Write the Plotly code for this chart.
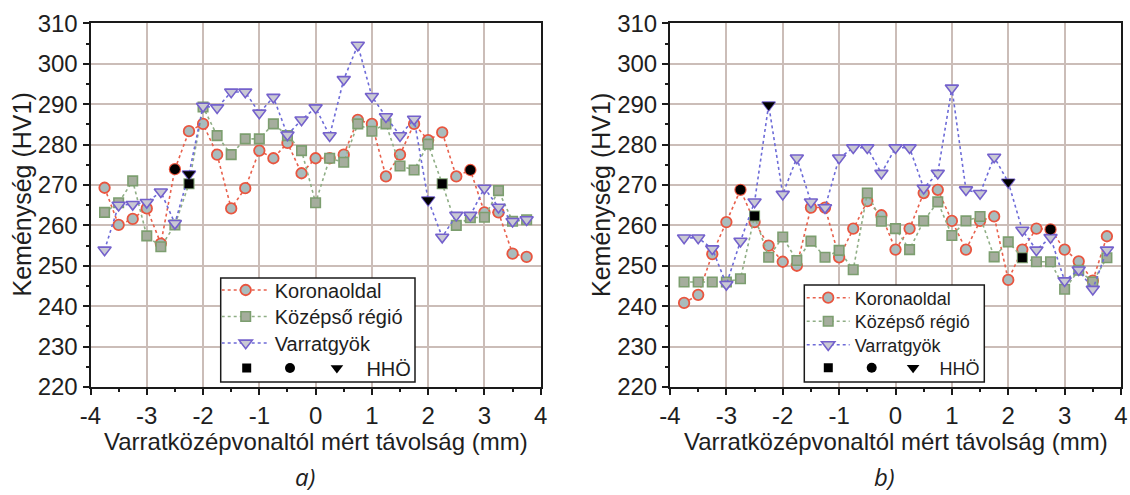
import plotly.graph_objects as go

W, H = 1130, 495
FONT = "Liberation Sans, Arial, sans-serif"

# ---------------- data ----------------
x_mm = [-3.75, -3.5, -3.25, -3.0, -2.75, -2.5, -2.25, -2.0, -1.75, -1.5, -1.25,
        -1.0, -0.75, -0.5, -0.25, 0.0, 0.25, 0.5, 0.75, 1.0, 1.25, 1.5, 1.75,
        2.0, 2.25, 2.5, 2.75, 3.0, 3.25, 3.5, 3.75]

# panel a)
a_koronaoldal = [269.3, 260.1, 261.6, 264.2, 255.5, 273.9, 283.3, 285.1, 277.5, 264.2, 269.2,
                 278.5, 276.6, 280.4, 272.9, 276.6, 276.6, 277.5, 286.1, 285.1, 272.1, 277.5, 285.1,
                 281.1, 283.0, 272.1, 273.7, 263.2, 263.2, 253.0, 252.2]
a_kozepso = [263.2, 265.6, 271.0, 257.4, 254.7, 260.1, 270.3, 289.3, 282.2, 277.5, 281.4,
             281.4, 285.1, 282.2, 278.5, 265.6, 276.6, 275.6, 285.1, 283.3, 285.1, 274.7, 273.7,
             280.1, 270.3, 260.0, 261.9, 262.0, 268.6, 261.0, 261.4]
a_varratgyok = [253.9, 265.0, 265.2, 265.7, 268.3, 260.5, 272.7, 289.5, 289.1, 293.0, 293.0,
                287.8, 291.7, 282.4, 286.1, 289.1, 282.2, 296.1, 304.6, 291.9, 286.9, 282.2, 286.3,
                266.3, 257.1, 262.5, 262.5, 269.2, 264.5, 261.0, 261.4]

# panel b)
b_koronaoldal = [240.8, 242.8, 252.9, 260.8, 268.8, 260.8, 255.0, 251.0, 250.0, 264.4, 264.4,
                 252.1, 259.2, 266.0, 262.5, 254.0, 259.2, 268.0, 268.8, 261.1, 254.0, 261.1, 262.2,
                 246.5, 254.0, 259.2, 259.0, 254.0, 251.1, 246.3, 257.3]
b_kozepso = [246.0, 246.0, 246.0, 246.0, 246.8, 262.3, 252.1, 257.1, 251.3, 256.1, 252.1,
             253.8, 249.0, 268.0, 261.0, 259.2, 254.0, 261.1, 265.8, 257.5, 261.1, 262.2, 252.2,
             255.9, 252.0, 251.0, 251.0, 244.2, 248.9, 246.0, 252.0]
b_varratgyok = [256.9, 256.9, 254.2, 245.4, 256.1, 265.8, 289.8, 267.7, 276.7, 265.8, 264.4,
                276.7, 279.2, 279.2, 272.9, 279.2, 279.2, 269.2, 272.9, 294.0, 268.8, 267.9, 276.9,
                270.7, 258.8, 253.9, 257.0, 246.3, 249.0, 244.2, 253.9]

# HHÖ (heat affected zone boundary) positions, mm
a_hho_square_x = [-2.25, 2.25]     # on Középső régió
a_hho_circle_x = [-2.5, 2.75]      # on Koronaoldal
a_hho_triangle_x = [-2.25, 2.0]    # on Varratgyök
b_hho_square_x = [-2.5, 2.25]
b_hho_circle_x = [-2.75, 2.75]
b_hho_triangle_x = [-2.25, 2.0]

series_names = ["Koronaoldal", "Középső régió", "Varratgyök"]
hho_label = "HHÖ"
x_tick_vals = [-4, -3, -2, -1, 0, 1, 2, 3, 4]
x_tick_text = ["-4", "-3", "-2", "-1", "0", "1", "2", "3", "4"]
y_tick_vals = [220, 230, 240, 250, 260, 270, 280, 290, 300, 310]
panel_labels = ["a)", "b)"]
x_title = "Varratközépvonaltól mért távolság (mm)"
y_title = "Keménység (HV1)"

X_RANGE = [-4, 4]
Y_RANGE = [220, 310]

# ---------------- styling ----------------
series_style = [
    dict(line=dict(color="#e8604c", width=1.6, dash="dot"),
         marker=dict(symbol="circle", size=10.5, color="#a9bcbd",
                     line=dict(color="#e9553f", width=1.8))),
    dict(line=dict(color="#8fae85", width=1.6, dash="dot"),
         marker=dict(symbol="square", size=9.5, color="#a5ad9d",
                     line=dict(color="#7c9e6f", width=1.6))),
    dict(line=dict(color="#6d6bd8", width=1.6, dash="dot"),
         marker=dict(symbol="triangle-down", size=11.5, color="#c9c9d3",
                     line=dict(color="#7461cc", width=1.6))),
]
hho_style = [
    dict(symbol="square", size=9, color="#000000"),
    dict(symbol="circle", size=10, color="#000000"),
    dict(symbol="triangle-down", size=11, color="#000000"),
]

# pixel layout
X_DOM = [(90.5, 540.7), (670.0, 1121.0)]
Y_TOP, Y_BOT = 23.3, 387.0


def fx(p):
    return p / W


def fy(p):
    return 1 - p / H


panels = [
    dict(xa="x", ya="y", series=[a_koronaoldal, a_kozepso, a_varratgyok],
         hho=[a_hho_square_x, a_hho_circle_x, a_hho_triangle_x],
         leg_rows=[290, 316.5, 343], hho_row=368, leg_x=216.7, iw=48, fsize=20,
         hho_xs=[226.7, 270.0, 307.4], hho_iw=[30, 30, 49],
         box=(220.7, 415.0, 278.0, 382.0)),
    dict(xa="x2", ya="y2", series=[b_koronaoldal, b_kozepso, b_varratgyok],
         hho=[b_hho_square_x, b_hho_circle_x, b_hho_triangle_x],
         leg_rows=[298, 321.5, 345], hho_row=368, leg_x=801.7, iw=43, fsize=18,
         hho_xs=[808.3, 851.7, 886.6], hho_iw=[30, 30, 43],
         box=(804.3, 984.3, 285.0, 382.0)),
]

fig = go.Figure()
legends = {}
leg_count = 0


def new_legend(xpx, ypx, size, iw):
    global leg_count
    leg_count += 1
    key = "legend" if leg_count == 1 else "legend%d" % leg_count
    legends[key] = dict(x=fx(xpx), y=fy(ypx), xanchor="left", yanchor="middle",
                        xref="paper", yref="paper", bgcolor="rgba(0,0,0,0)",
                        borderwidth=0, itemwidth=iw, tracegroupgap=0,
                        font=dict(family=FONT, size=size, color="#1e1e1e"))
    return key


hho_series_index = [1, 0, 2]  # square->Középső, circle->Korona, triangle->Varratgyök

for p in panels:
    for i, ys in enumerate(p["series"]):
        key = new_legend(p["leg_x"], p["leg_rows"][i], p["fsize"], p["iw"])
        st = series_style[i]
        fig.add_trace(go.Scatter(x=x_mm, y=ys, mode="lines+markers", name=series_names[i],
                                 line=st["line"], marker=st["marker"],
                                 xaxis=p["xa"], yaxis=p["ya"], legend=key))
    for j, hx in enumerate(p["hho"]):
        src = p["series"][hho_series_index[j]]
        hy = [src[x_mm.index(v)] for v in hx]
        key = new_legend(p["hho_xs"][j], p["hho_row"], p["fsize"], p["hho_iw"][j])
        fig.add_trace(go.Scatter(x=hx, y=hy, mode="markers",
                                 name=hho_label if j == 2 else " ",
                                 marker=hho_style[j], xaxis=p["xa"], yaxis=p["ya"],
                                 legend=key))

axis_common = dict(showline=True, linecolor="#1a1a1a", linewidth=2, mirror=True,
                   showgrid=True, gridcolor="#cbbdb8", gridwidth=1.5, zeroline=False,
                   ticks="outside", ticklen=6, tickwidth=1.5, tickcolor="#1a1a1a",
                   automargin=False,
                   tickfont=dict(family=FONT, size=24, color="#1e1e1e"))

layout = dict(width=W, height=H, margin=dict(l=0, r=0, t=0, b=0, autoexpand=False),
              paper_bgcolor="white", plot_bgcolor="white", showlegend=True)

for k, p in enumerate(panels):
    sx = "" if k == 0 else "2"
    x0, x1 = X_DOM[k]
    layout["xaxis" + sx] = dict(axis_common, domain=[fx(x0), fx(x1)], range=X_RANGE,
                                tickmode="array", tickvals=x_tick_vals, ticktext=x_tick_text,
                                anchor="y" + sx,
                                minor=dict(tickmode="linear", tick0=-4, dtick=0.5, ticklen=3,
                                           tickwidth=1.5, tickcolor="#1a1a1a", ticks="outside",
                                           showgrid=False))
    layout["yaxis" + sx] = dict(axis_common, domain=[fy(Y_BOT), fy(Y_TOP)], range=Y_RANGE,
                                tickmode="array", tickvals=y_tick_vals, anchor="x" + sx,
                                minor=dict(tickmode="linear", tick0=220, dtick=5, ticklen=3,
                                           tickwidth=1.5, tickcolor="#1a1a1a", ticks="outside",
                                           showgrid=False))

layout.update(legends)


def px_to_xdata(px, k):
    x0, x1 = X_DOM[k]
    return X_RANGE[0] + (X_RANGE[1] - X_RANGE[0]) * (px - x0) / (x1 - x0)


def px_to_ydata(py):
    return Y_RANGE[0] + (Y_RANGE[1] - Y_RANGE[0]) * (Y_BOT - py) / (Y_BOT - Y_TOP)


shapes = []
annotations = []
for k, p in enumerate(panels):
    sx = "" if k == 0 else "2"
    x0, x1 = X_DOM[k]
    bx0, bx1, by0, by1 = p["box"]
    shapes.append(dict(type="rect", xref="x" + sx, yref="y" + sx,
                       x0=px_to_xdata(bx0, k), x1=px_to_xdata(bx1, k),
                       y0=px_to_ydata(by1), y1=px_to_ydata(by0),
                       line=dict(color="#1a1a1a", width=1.5), fillcolor="white",
                       layer="between"))
    annotations.append(dict(text=x_title, xref="paper", yref="paper",
                            x=fx((x0 + x1) / 2), y=fy(441), xanchor="center", yanchor="middle",
                            showarrow=False, font=dict(family=FONT, size=24, color="#1e1e1e")))
    annotations.append(dict(text=y_title, xref="paper", yref="paper", textangle=-90,
                            x=fx(x0 - 69), y=fy(195), xanchor="center", yanchor="middle",
                            showarrow=False, font=dict(family=FONT, size=25, color="#1e1e1e")))
    annotations.append(dict(text="<i>%s</i>" % panel_labels[k], xref="paper", yref="paper",
                            x=fx((x0 + x1) / 2 - 11), y=fy(476), xanchor="center",
                            yanchor="middle", showarrow=False,
                            font=dict(family="Open Sans, sans-serif", size=24, color="#1e1e1e")))

layout["shapes"] = shapes
layout["annotations"] = annotations
fig.update_layout(**layout)

fig.write_html("out.html")
